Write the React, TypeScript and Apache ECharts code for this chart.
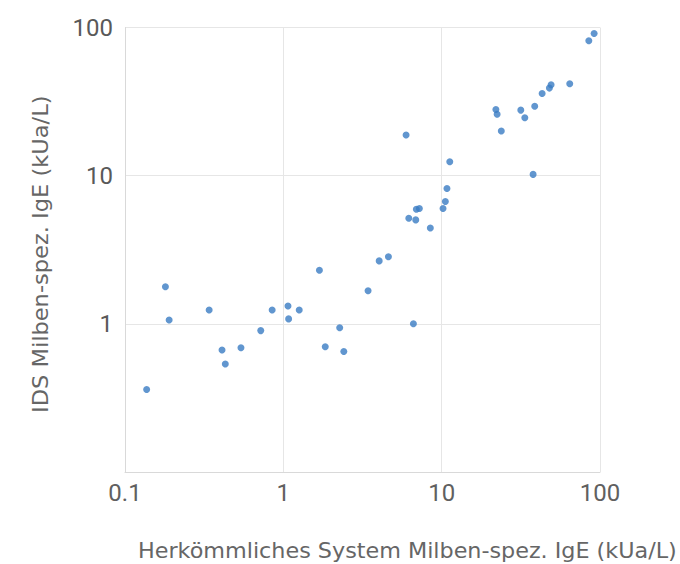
import React, { useEffect, useRef } from "react";
import * as echarts from "echarts";

const xValues = [
  0.137, 0.18, 0.19, 0.34, 0.41, 0.43, 0.54, 0.72, 0.85, 1.07, 1.08, 1.26, 1.69, 1.84,
  2.27, 2.41, 3.43, 4.03, 4.61, 5.96, 6.63, 6.2, 6.86, 6.92, 7.23, 8.48, 10.2, 10.55,
  10.8, 11.25, 22, 22.4, 23.8, 31.6, 33.5, 37.8, 38.7, 43.1, 47.9, 49.1, 64.4, 85, 91.8,
];
const yValues = [
  0.36, 1.78, 1.06, 1.24, 0.665, 0.535, 0.69, 0.9, 1.24, 1.32, 1.08, 1.24, 2.3, 0.7,
  0.94, 0.65, 1.67, 2.66, 2.84, 18.8, 1.0, 5.16, 5.03, 5.93, 6.0, 4.44, 6.0, 6.7,
  8.2, 12.4, 28, 26, 20, 27.7, 24.6, 10.2, 29.4, 35.9, 39, 41.1, 41.7, 81.3, 91.2,
];
const axisMin = 0.1;
const axisMax = 100;
const xAxisTitle = "Herkömmliches System Milben-spez. IgE (kUa/L)";
const yAxisTitle = "IDS Milben-spez. IgE (kUa/L)";

export default function App() {
  const ref = useRef<HTMLDivElement>(null);
  useEffect(() => {
    if (!ref.current) return;
    const chart = echarts.init(ref.current, null, { renderer: "svg" });
    const font = "Roboto, 'Noto Sans', sans-serif";
    const titleFont = "'DejaVu Sans', sans-serif";
    const grey = "#595959";
    const titleGrey = "#666666";
    chart.setOption({
      animation: false,
      backgroundColor: "#ffffff",
      grid: { left: 125, right: 80, top: 27.5, bottom: 92 },
      xAxis: {
        type: "log",
        logBase: 10,
        min: axisMin,
        max: axisMax,
        axisLine: { show: true, lineStyle: { color: "#d9d9d9", width: 1 } },
        axisTick: { show: false },
        minorTick: { show: false },
        splitLine: { show: true, lineStyle: { color: "#e6e6e6", width: 1 } },
        axisLabel: {
          color: "#606060",
          fontFamily: font,
          fontSize: 24,
          margin: 9,
          formatter: (v: number) => String(v),
        },
      },
      yAxis: {
        type: "log",
        logBase: 10,
        min: axisMin,
        max: axisMax,
        axisLine: { show: true, lineStyle: { color: "#d9d9d9", width: 1 } },
        axisTick: { show: false },
        splitLine: { show: true, lineStyle: { color: "#e6e6e6", width: 1 } },
        axisLabel: {
          color: grey,
          fontFamily: font,
          fontSize: 24,
          margin: 12,
          showMinLabel: false,
          formatter: (v: number) => String(v),
        },
      },
      graphic: [
        {
          type: "text",
          x: 138,
          y: 539,
          scaleX: 1.013,
          style: {
            text: xAxisTitle,
            fill: titleGrey,
            font: `22px ${titleFont}`,
            textAlign: "left",
            textVerticalAlign: "top",
          },
        },
        {
          type: "text",
          x: 29,
          y: 413,
          rotation: Math.PI / 2,
          scaleX: 1.025,
          style: {
            text: yAxisTitle,
            fill: titleGrey,
            font: `22px ${titleFont}`,
            textAlign: "left",
            textVerticalAlign: "top",
          },
        },
      ],
      series: [
        {
          type: "scatter",
          symbol: "circle",
          symbolSize: 7,
          itemStyle: { color: "#3a7cc3" },
          data: xValues.map((x, i) => [x, yValues[i]]),
        },
      ],
    });
    return () => chart.dispose();
  }, []);
  return (
    <div
      ref={ref}
      style={{ position: "fixed", left: 0, top: 0, width: 680, height: 564 }}
    />
  );
}
